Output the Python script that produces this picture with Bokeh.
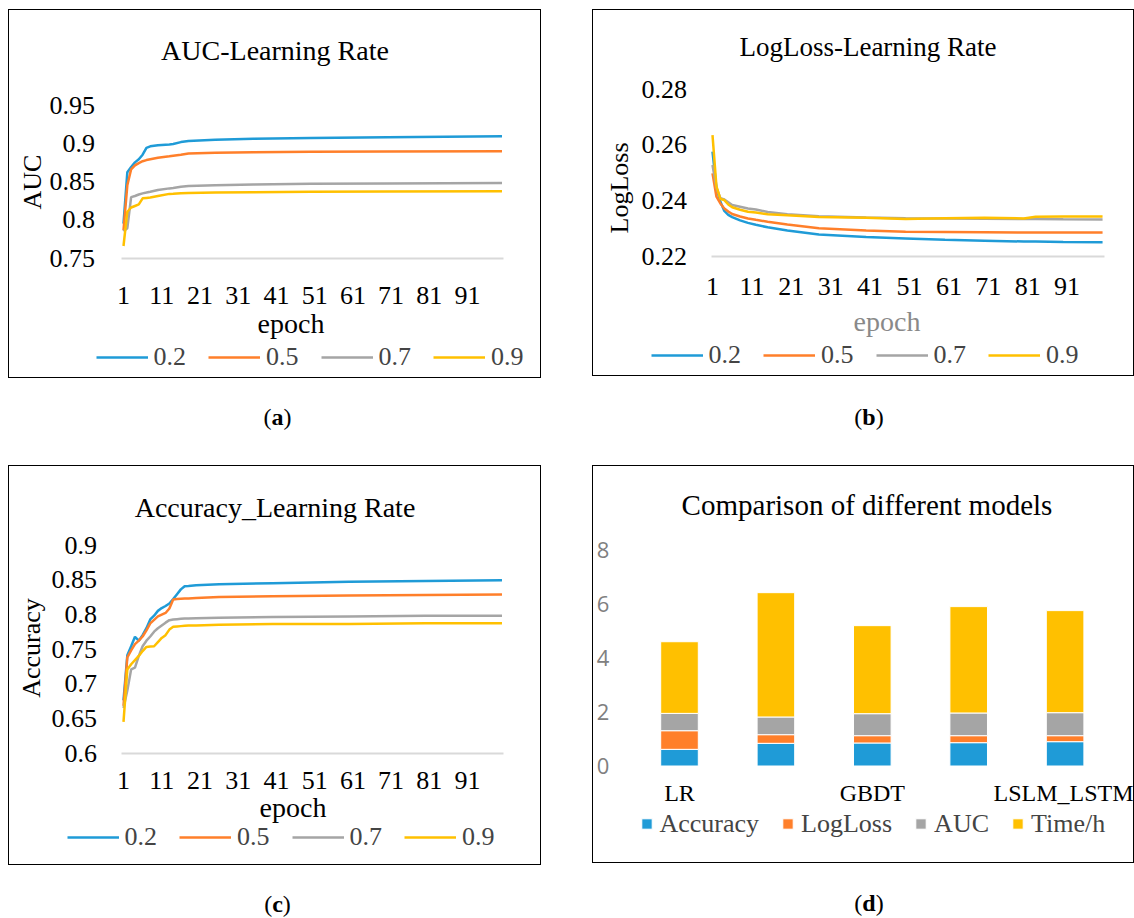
import math
from bokeh.plotting import figure
from bokeh.models import (Range1d, FixedTicker, Label, Legend, LegendItem, Div, Spacer,
                          ColumnDataSource, PrintfTickFormatter)
from bokeh.layouts import column, row
from bokeh.embed import file_html
from bokeh.resources import INLINE

SERIF = "Liberation Serif"
SANS = "Open Sans"
COLORS = ["#1F9BD7", "#FF7F2A", "#A5A5A5", "#FFC000"]
rates = ["0.2", "0.5", "0.7", "0.9"]
x_tick_epochs = [1, 11, 21, 31, 41, 51, 61, 71, 81, 91]

# ---------------- (a) AUC vs learning rate ----------------
auc_ticks = [0.75, 0.8, 0.85, 0.9, 0.95]
auc_epochs = [1, 2, 3, 4, 5, 6, 7, 8, 10, 13, 14, 16, 18, 25, 35, 50, 70, 100]
auc_02 = [0.795, 0.862, 0.869, 0.875, 0.879, 0.885, 0.894, 0.896, 0.8975, 0.8985, 0.899, 0.9015,
          0.903, 0.9045, 0.906, 0.907, 0.908, 0.909]
auc_05 = [0.786, 0.845, 0.866, 0.871, 0.874, 0.8765, 0.878, 0.879, 0.881, 0.883, 0.8838, 0.885,
          0.8865, 0.8875, 0.8882, 0.8888, 0.8893, 0.8895]
auc_07 = [0.785, 0.789, 0.8296, 0.831, 0.833, 0.8345, 0.8355, 0.8366, 0.839, 0.841, 0.8415, 0.843,
          0.844, 0.845, 0.846, 0.847, 0.8475, 0.848]
auc_09 = [0.7657, 0.8105, 0.816, 0.818, 0.820, 0.828, 0.8285, 0.829, 0.831, 0.8338, 0.834, 0.8345,
          0.835, 0.8355, 0.836, 0.8365, 0.837, 0.8372]

# ---------------- (b) LogLoss vs learning rate ----------------
ll_ticks = [0.22, 0.24, 0.26, 0.28]
ll_epochs = [1, 2, 3, 4, 5, 6, 8, 10, 12, 15, 20, 28, 40, 50, 60, 70, 80, 83, 90, 100]
ll_02 = [0.2575, 0.2445, 0.2395, 0.2362, 0.2348, 0.2340, 0.2328, 0.2319, 0.2312, 0.2303, 0.2292,
         0.2277, 0.2268, 0.2263, 0.2258, 0.2255, 0.2252, 0.2252, 0.2250, 0.2249]
ll_05 = [0.2497, 0.2413, 0.2389, 0.2371, 0.2360, 0.2351, 0.2342, 0.2335, 0.2330, 0.2323, 0.2313,
         0.2300, 0.2292, 0.2287, 0.2286, 0.2285, 0.2284, 0.2284, 0.2284, 0.2284]
ll_07 = [0.2527, 0.2445, 0.2408, 0.2403, 0.2393, 0.2383, 0.2377, 0.2371, 0.2367, 0.2358, 0.2350,
         0.2343, 0.2338, 0.2336, 0.2335, 0.2334, 0.2333, 0.2333, 0.2332, 0.2331]
ll_09 = [0.2634, 0.2450, 0.2405, 0.2401, 0.2385, 0.2375, 0.2366, 0.2359, 0.2356, 0.2350, 0.2346,
         0.2340, 0.2337, 0.2333, 0.2336, 0.2337, 0.2335, 0.2341, 0.2342, 0.2342]

# ---------------- (c) Accuracy vs learning rate ----------------
acc_ticks = [0.6, 0.65, 0.7, 0.75, 0.8, 0.85, 0.9]
acc_epochs = [1, 2, 3, 4, 5, 6, 7, 8, 9, 10, 11, 12, 13, 14, 15, 16, 17, 18, 20, 26, 40, 60, 80, 100]
acc_02 = [0.676, 0.741, 0.754, 0.7676, 0.762, 0.770, 0.780, 0.7926, 0.798, 0.805, 0.809, 0.812,
          0.8157, 0.822, 0.829, 0.836, 0.8406, 0.841, 0.842, 0.8435, 0.845, 0.847, 0.848, 0.849]
acc_05 = [0.668, 0.738, 0.748, 0.757, 0.762, 0.768, 0.777, 0.787, 0.792, 0.797, 0.7995, 0.802,
          0.8085, 0.8215, 0.822, 0.8225, 0.823, 0.823, 0.8235, 0.825, 0.826, 0.827, 0.828, 0.8287]
acc_07 = [0.665, 0.690, 0.7206, 0.723, 0.740, 0.754, 0.762, 0.768, 0.775, 0.780, 0.784, 0.788,
          0.7916, 0.7925, 0.793, 0.7935, 0.794, 0.794, 0.7945, 0.795, 0.796, 0.797, 0.798, 0.798]
acc_09 = [0.645, 0.7206, 0.728, 0.734, 0.740, 0.747, 0.753, 0.7535, 0.754, 0.760, 0.766, 0.770,
          0.778, 0.782, 0.7825, 0.783, 0.7835, 0.784, 0.784, 0.785, 0.786, 0.786, 0.787, 0.787]

# ---------------- (d) comparison of models ----------------
models = ["LR", "M2", "GBDT", "M4", "LSLM_LSTM"]
labelled_models = ["LR", "GBDT", "LSLM_LSTM"]
metric_names = ["Accuracy", "LogLoss", "AUC", "Time/h"]
bar_accuracy = [0.617, 0.84, 0.852, 0.864, 0.901]
bar_logloss = [0.69, 0.32, 0.271, 0.259, 0.222]
bar_auc = [0.642, 0.655, 0.815, 0.84, 0.852]
bar_time_h = [2.654, 4.605, 3.26, 3.94, 3.78]
bar_ticks = [0, 2, 4, 6, 8]

BORDER_W = 1.5
BORDER = {"border": "%gpx solid #000000" % BORDER_W}


class Geo:
    """Maps page pixels to the panel's canvas (frame == whole canvas)."""

    def __init__(self, box_left, box_top, box_w, box_h, X0, x0, pxx, Y0, y0, pxy):
        self.cx = box_left + BORDER_W
        self.cy = box_top + BORDER_W
        self.W = box_w
        self.H = box_h
        self.xr = (x0 + (self.cx - X0) / pxx, x0 + (self.cx + self.W - X0) / pxx)
        self.yr = (y0 - (self.cy + self.H - Y0) / pxy, y0 + (Y0 - self.cy) / pxy)

    def sx(self, X):
        return X - self.cx

    def sy(self, Y):
        return self.H - (Y - self.cy)


def make_fig(g):
    p = figure(width=g.W, height=g.H, x_range=Range1d(*g.xr), y_range=Range1d(*g.yr),
               output_backend="svg", toolbar_location=None,
               min_border_left=0, min_border_right=0, min_border_top=0, min_border_bottom=0,
               styles=BORDER)
    p.xgrid.visible = False
    p.ygrid.visible = False
    p.outline_line_color = None
    p.background_fill_color = "white"
    p.border_fill_color = "white"
    return p


def text(p, g, X, Y, s, size, color="#000000", angle=0.0, font=SERIF):
    p.add_layout(Label(x=g.sx(X), y=g.sy(Y), x_units="screen", y_units="screen", text=s,
                       text_align="center", text_baseline="middle", angle=angle,
                       text_font=font, text_font_size=size, text_color=color))


def style_axis(ax, standoff, size="26px", font=SERIF, color="#000000"):
    ax.major_tick_out = 0
    ax.major_tick_in = 0
    ax.minor_tick_out = 0
    ax.minor_tick_in = 0
    ax.major_tick_line_color = None
    ax.minor_tick_line_color = None
    ax.major_label_text_font = font
    ax.major_label_text_font_size = size
    ax.major_label_text_color = color
    ax.major_label_standoff = standoff


def legend(p, g, items, X_left, Y_mid, **kw):
    h = 30
    leg = Legend(items=items, orientation="horizontal",
                 location=(g.sx(X_left), g.sy(Y_mid) - h / 2),
                 padding=0, margin=0, border_line_color=None, background_fill_alpha=0,
                 label_text_font=SERIF, label_text_font_size="26px", label_height=20, **kw)
    p.add_layout(leg)


def line_panel(g, x_bounds, y_min, y_max, yticks, epochs, series, cfg):
    p = make_fig(g)
    xa = p.below[0]
    ya = p.left[0]
    style_axis(xa, cfg["xstand"])
    style_axis(ya, cfg["ystand"])
    xa.fixed_location = y_min
    xa.bounds = x_bounds
    xa.ticker = FixedTicker(ticks=x_tick_epochs)
    xa.axis_line_color = "#D9D9D9"
    xa.axis_line_width = 2
    ya.fixed_location = x_bounds[0]
    ya.bounds = (y_min, y_max)
    ya.ticker = FixedTicker(ticks=yticks)
    ya.formatter = PrintfTickFormatter(format="%g")
    ya.axis_line_color = None
    items = []
    for vals, color, rate in zip(series, COLORS, rates):
        r = p.line(x=epochs, y=vals, line_color=color, line_width=2.5)
        items.append(LegendItem(label=rate, renderers=[r]))
    legend(p, g, items, cfg["leg"][0], cfg["leg"][1], glyph_width=52, glyph_height=20,
           label_standoff=6, spacing=22)
    text(p, g, cfg["title_at"][0], cfg["title_at"][1], cfg["title"], cfg["title_size"])
    text(p, g, cfg["ylab_at"][0], cfg["ylab_at"][1], cfg["ylab"], "26px", angle=math.pi / 2)
    text(p, g, cfg["epoch_at"][0], cfg["epoch_at"][1], "epoch", "28px",
         color=cfg.get("epoch_color", "#000000"))
    return p


# panel (a): box 8..541 x 9..378 ; epoch 1 at x=123.5 (3.823 px/epoch) ; 0.75 at y=258 (765 px/unit)
ga = Geo(8, 9, 533, 369, 123.5, 1, 3.823, 258, 0.75, 765)
pa = line_panel(ga, (0.6, 100.27), 0.75, 0.95, auc_ticks, auc_epochs,
                [auc_02, auc_05, auc_07, auc_09],
                dict(title="AUC-Learning Rate", title_size="28px", title_at=(275, 50),
                     ylab="AUC", ylab_at=(32, 182), epoch_at=(291, 323), leg=(96, 357),
                     xstand=29, ystand=27))
# panel (b)
gb = Geo(592, 9, 542, 367, 712.5, 1, 3.94, 256, 0.22, 2783)
pb = line_panel(gb, (0.87, 100.5), 0.22, 0.28, ll_ticks, ll_epochs,
                [ll_02, ll_05, ll_07, ll_09],
                dict(title="LogLoss-Learning Rate", title_size="27px", title_at=(868, 47),
                     ylab="LogLoss", ylab_at=(619, 188), epoch_at=(887, 321), leg=(651, 355),
                     epoch_color="#898989", xstand=22, ystand=25))
# panel (c)
gc = Geo(8, 465, 533, 400, 123.5, 1, 3.823, 753, 0.6, 693.3)
pc = line_panel(gc, (0.6, 100.27), 0.6, 0.9, acc_ticks, acc_epochs,
                [acc_02, acc_05, acc_07, acc_09],
                dict(title="Accuracy_Learning Rate", title_size="28px", title_at=(275, 507),
                     ylab="Accuracy", ylab_at=(31, 648), epoch_at=(293, 807), leg=(67, 837),
                     xstand=19, ystand=25))

# panel (d): bar positions 1..5, position 1 at x=679.5 (96.4 px/unit); 0 at y=766 (27 px/unit)
gd = Geo(592, 465, 542, 398, 679.5, 1, 96.4, 766, 0, 27)
model_pos = list(range(1, len(models) + 1))
src = ColumnDataSource(data={"pos": model_pos, "model": models, "Accuracy": bar_accuracy,
                             "LogLoss": bar_logloss, "AUC": bar_auc, "Time/h": bar_time_h})
pd_ = make_fig(gd)
rs = pd_.vbar_stack(metric_names, x="pos", width=0.39, color=COLORS, source=src,
                    line_color="white", line_width=1)
xa = pd_.below[0]
ya = pd_.left[0]
style_axis(xa, 14, size="24px")
style_axis(ya, 22, size="22px", font=SANS, color="#808080")
xa.fixed_location = 0
xa.bounds = (0.5, len(models) + 0.5)
xa.axis_line_color = None
xa.ticker = FixedTicker(ticks=[model_pos[models.index(m)] for m in labelled_models])
xa.major_label_overrides = {model_pos[models.index(m)]: m for m in labelled_models}
ya.fixed_location = 0.5
ya.bounds = (0, 8)
ya.axis_line_color = None
ya.ticker = FixedTicker(ticks=bar_ticks)
legend(pd_, gd, [LegendItem(label=n, renderers=[r]) for n, r in zip(metric_names, rs)],
       640, 824, glyph_width=13, glyph_height=13, label_standoff=7, spacing=22)
text(pd_, gd, 867, 505, "Comparison of different models", "29px")


def caption(letter, w, h, pad_top, shift):
    html = ('<div style="width:%dpx;text-align:center;padding-top:%dpx;position:relative;'
            'left:%dpx;font-family:\'Liberation Serif\';font-size:24px;line-height:28px;'
            'color:#000">(<b>%s</b>)</div>' % (w, pad_top, shift, letter))
    return Div(text=html, width=w, height=h, margin=0)


GAP = 51
main = column(
    row(pa, Spacer(width=GAP), pb),
    row(caption("a", 533, 87, 25, 3), Spacer(width=GAP), caption("b", 542, 87, 25, 6)),
    row(pc, Spacer(width=GAP), pd_),
    row(caption("c", 533, 53, 25, 3), Spacer(width=GAP), caption("d", 542, 53, 24, 6)),
)
layout = column(Spacer(height=9), row(Spacer(width=8), main))

open("out.html", "w").write(file_html(layout, INLINE))
